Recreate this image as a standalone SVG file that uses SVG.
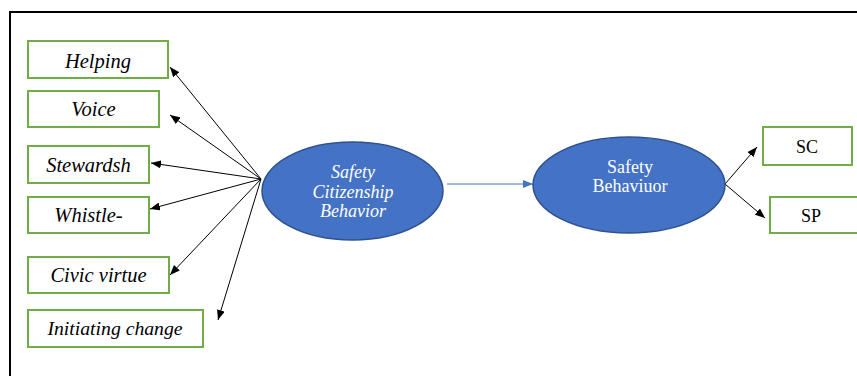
<svg xmlns="http://www.w3.org/2000/svg" width="857" height="376" viewBox="0 0 857 376">
<defs>
<marker id="ah" markerWidth="10" markerHeight="8" refX="10" refY="4" orient="auto" markerUnits="userSpaceOnUse">
<path d="M0,0 L10,4 L0,8 Z" fill="#000"/>
</marker>
<marker id="ahb" markerWidth="10" markerHeight="8" refX="10" refY="4" orient="auto" markerUnits="userSpaceOnUse">
<path d="M0,0 L10,4 L0,8 Z" fill="#4472C4"/>
</marker>
</defs>
<style>
.box{fill:#fff;stroke:#70AD47;stroke-width:2}
.ell{fill:#4472C4;stroke:#2F528F;stroke-width:1.5}
.con{stroke:#000;stroke-width:1;fill:none;marker-end:url(#ah)}
</style>
<rect width="857" height="376" fill="#fff"/>
<path d="M10,376 L10,12 L857,12" fill="none" stroke="#000" stroke-width="2"/>
<g id="connectors">
<line class="con" x1="261" y1="179" x2="170" y2="67"/>
<line class="con" x1="261" y1="179" x2="170" y2="115"/>
<line class="con" x1="261" y1="179" x2="151" y2="163"/>
<line class="con" x1="261" y1="179" x2="150" y2="209"/>
<line class="con" x1="261" y1="179" x2="170" y2="275"/>
<line class="con" x1="261" y1="179" x2="218" y2="320"/>
<line x1="447" y1="184" x2="533" y2="184" stroke="#4472C4" stroke-width="1" marker-end="url(#ahb)"/>
<line class="con" x1="725" y1="184" x2="757" y2="147"/>
<line class="con" x1="725" y1="184" x2="765" y2="218"/>
</g>
<g id="helping"><rect class="box" x="28" y="41" width="140" height="37"/><text x="98" y="68" font-family="Liberation Serif" font-style="italic" font-size="20.5" text-anchor="middle" fill="#000">Helping</text></g>
<g id="voice"><rect class="box" x="28" y="91" width="131" height="36"/><text x="93.5" y="116" font-family="Liberation Serif" font-style="italic" font-size="20.5" text-anchor="middle" fill="#000">Voice</text></g>
<g id="stewardsh"><rect class="box" x="28" y="146" width="121" height="37"/><text x="88.5" y="172" font-family="Liberation Serif" font-style="italic" font-size="20.5" text-anchor="middle" fill="#000">Stewardsh</text></g>
<g id="whistle"><rect class="box" x="28" y="197" width="121" height="36"/><text x="88.5" y="222" font-family="Liberation Serif" font-style="italic" font-size="20.5" text-anchor="middle" fill="#000">Whistle-</text></g>
<g id="civic"><rect class="box" x="28" y="257" width="141" height="36"/><text x="98.5" y="281.5" font-family="Liberation Serif" font-style="italic" font-size="20.5" text-anchor="middle" fill="#000">Civic virtue</text></g>
<g id="initiating"><rect class="box" x="28" y="310" width="175" height="37"/><text x="115" y="335" font-family="Liberation Serif" font-style="italic" font-size="19.7" text-anchor="middle" fill="#000">Initiating change</text></g>
<g id="scb"><ellipse class="ell" cx="352.5" cy="191" rx="90.5" ry="49"/>
<text x="353" y="178" font-family="Liberation Serif" font-style="italic" font-size="18" text-anchor="middle" fill="#fff">Safety</text>
<text x="353" y="198" font-family="Liberation Serif" font-style="italic" font-size="18" text-anchor="middle" fill="#fff">Citizenship</text>
<text x="353" y="217" font-family="Liberation Serif" font-style="italic" font-size="18" text-anchor="middle" fill="#fff">Behavior</text></g>
<g id="sb"><ellipse class="ell" cx="629" cy="185" rx="96" ry="48"/>
<text x="630" y="173" font-family="Liberation Serif" font-size="18" text-anchor="middle" fill="#fff">Safety</text>
<text x="630" y="192" font-family="Liberation Serif" font-size="18" text-anchor="middle" fill="#fff">Behaviuor</text></g>
<g id="sc"><rect class="box" x="763" y="127" width="89" height="38"/><text x="807" y="153" font-family="Liberation Serif" font-size="18" text-anchor="middle" fill="#000">SC</text></g>
<g id="sp"><rect class="box" x="770" y="197" width="89" height="36"/><text x="811" y="222" font-family="Liberation Serif" font-size="18" text-anchor="middle" fill="#000">SP</text></g>
</svg>
